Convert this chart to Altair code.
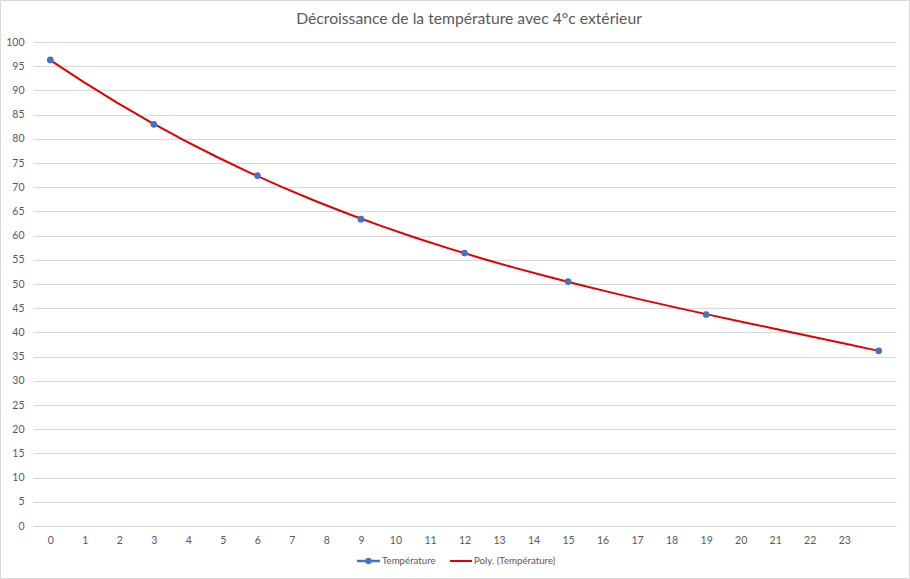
import altair as alt
import pandas as pd

title = "Décroissance de la température avec 4°c extérieur"
hours = [0, 3, 6, 9, 12, 15, 19, 24]
temps = [96.3, 83.0, 72.4, 63.4, 56.4, 50.5, 43.7, 36.2]
x_ticks = list(range(0, 24))
y_ticks = list(range(0, 101, 5))
legend_labels = ["Température", "Poly. (Température)"]

df = pd.DataFrame({"x": hours, "y": temps})

W, H = 863, 484
GRAY = "#595959"
BLUE = "#4472C4"
RED = "#E00000"

xs = alt.Scale(domain=[-0.5, 24.5], nice=False, zero=False)
ys = alt.Scale(domain=[0, 100], nice=False)

xaxis = alt.Axis(values=x_ticks, grid=False, domain=False, ticks=False, labelOverlap=False,
                 labelPadding=9, labelColor=GRAY, labelFont="Lato", labelFontSize=10.5,
                 title=None)
yaxis = alt.Axis(values=y_ticks, grid=True, gridColor="#d9d9d9", gridWidth=1, labelOverlap=False,
                 domain=False, ticks=False, labelPadding=9, labelColor=GRAY,
                 labelFont="Lato", labelFontSize=10.5, title=None)

base = alt.Chart(df)

trend = base.transform_regression("x", "y", method="poly", order=3, extent=[0, 24]).mark_line(
    color=RED, strokeWidth=2
).encode(
    x=alt.X("x:Q", scale=xs, axis=xaxis),
    y=alt.Y("y:Q", scale=ys, axis=yaxis),
)

pts = base.mark_point(filled=True, size=45, color=BLUE, opacity=1).encode(
    x=alt.X("x:Q", scale=xs, axis=xaxis),
    y=alt.Y("y:Q", scale=ys, axis=yaxis),
)

leg_y = 519
leg_df = pd.DataFrame({"label": legend_labels})
blue_rule = alt.Chart(leg_df.iloc[[0]]).mark_rule(color=BLUE, strokeWidth=2.5).encode(
    x=alt.value(324), x2=alt.value(347), y=alt.value(leg_y))
blue_pt = alt.Chart(leg_df.iloc[[0]]).mark_point(filled=True, size=40, color=BLUE, opacity=1).encode(
    x=alt.value(335.5), y=alt.value(leg_y))
blue_txt = alt.Chart(leg_df.iloc[[0]]).mark_text(
    align="left", baseline="middle", color=GRAY, font="Lato", fontSize=9.7
).encode(x=alt.value(349), y=alt.value(leg_y), text="label:N")
red_rule = alt.Chart(leg_df.iloc[[1]]).mark_rule(color=RED, strokeWidth=2).encode(
    x=alt.value(417), x2=alt.value(439), y=alt.value(leg_y))
red_txt = alt.Chart(leg_df.iloc[[1]]).mark_text(
    align="left", baseline="middle", color=GRAY, font="Lato", fontSize=9.7
).encode(x=alt.value(441), y=alt.value(leg_y), text="label:N")

border = alt.Chart(leg_df.iloc[[0]]).mark_rect(fill=None, stroke="#d9d9d9", strokeWidth=1).encode(
    x=alt.value(-32.5), x2=alt.value(876.5), y=alt.value(-41.5), y2=alt.value(536.5))

title_txt = alt.Chart(leg_df.iloc[[0]]).mark_text(
    align="center", baseline="middle", color=GRAY, font="Lato", fontSize=15.7
).encode(x=alt.value(436), y=alt.value(-23), text=alt.value(title))

chart = alt.layer(trend, pts, blue_rule, blue_pt, blue_txt, red_rule, red_txt, border, title_txt).properties(
    width=W, height=H,
    autosize=alt.AutoSizeParams(type="none"),
    padding={"left": 33, "top": 42, "right": 14, "bottom": 53},
    background="white",
).configure_view(stroke=None)

chart.save("out.html", embed_options={"renderer": "svg", "actions": False})
